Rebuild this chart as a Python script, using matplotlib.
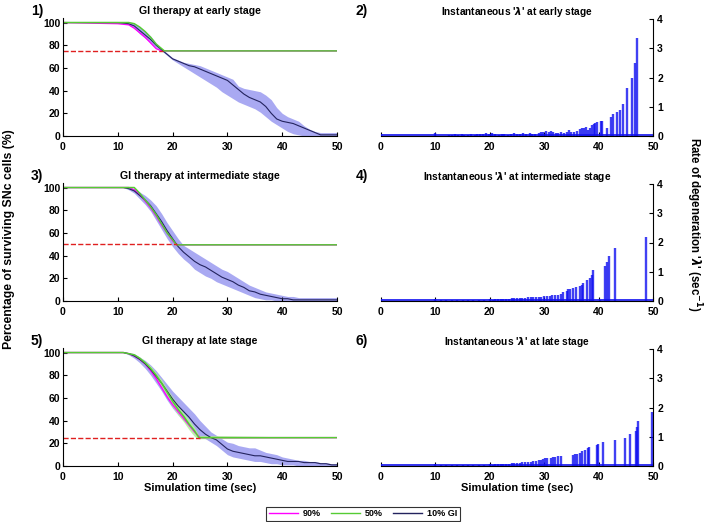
import matplotlib
matplotlib.use("Agg")
import matplotlib.pyplot as plt
from matplotlib.lines import Line2D

plt.rcParams['font.family'] = ['Liberation Sans', 'DejaVu Sans']
plt.rcParams['font.weight'] = 'bold'

# shared time grid for the survival curves (sec)
time = [0, 10, 11, 12, 13, 14, 15, 16, 17, 18, 19, 20, 21, 22, 23, 24, 25, 26, 27, 28, 29,
        30, 31, 32, 33, 34, 35, 36, 37, 38, 39, 40, 41, 42, 43, 44, 45, 46, 47, 48, 49, 50]

# --- early stage (threshold 75 %)
mean_early = [100, 100, 99.5, 99, 97, 93, 89, 85, 80, 76, 72, 68, 66, 64, 62, 61, 59, 57, 55, 53, 51,
              49, 45, 41, 37, 34, 32, 30, 26, 20, 15, 13, 12, 11, 9, 7, 5, 3, 1, 1, 1, 1]
up_early = [100, 100, 100, 100, 99, 96, 92, 88, 82, 77, 73, 69, 67, 65, 64, 63, 62, 60, 58, 56, 54,
            52, 50, 44, 42, 41, 40, 39, 36, 32, 25, 20, 17, 15, 13, 9, 6, 4, 3, 3, 3, 3]
lo_early = [100, 100, 100, 98, 95, 90, 86, 82, 78, 75, 71, 67, 64, 61, 58, 55, 52, 49, 46, 43, 39,
            36, 33, 30, 28, 26, 24, 21, 17, 13, 10, 7, 4, 2, 1, 0, 0, 0, 0, 0, 0, 0]
t_green_early = [0, 12, 13, 14, 15, 16, 17, 18, 18.5, 50]
green_early = [100, 100, 99, 96, 92, 87, 81, 77, 75, 75]
t_mag_early = [0, 10, 11, 12, 13, 14, 15, 16, 17, 18, 50]
mag_early = [100, 99, 98.5, 98, 95, 91, 87, 82, 77, 75, 75]

# --- intermediate stage (threshold 50 %)
mean_mid = [100, 100, 100, 99, 97, 93, 89, 84, 77, 70, 62, 55, 48, 43, 39, 35, 32, 30, 27, 24, 21,
            19, 17, 14, 12, 9, 8, 6, 5, 4, 3, 2, 2, 1, 1, 1, 1, 1, 1, 1, 1, 1]
up_mid = [100, 100, 100, 100, 99, 96, 93, 89, 84, 77, 69, 62, 55, 49, 46, 43, 40, 37, 34, 31, 28,
          26, 23, 20, 17, 14, 12, 10, 8, 7, 6, 5, 4, 4, 3, 3, 3, 3, 3, 3, 3, 3]
lo_mid = [100, 100, 100, 98, 95, 90, 85, 79, 71, 63, 55, 48, 42, 37, 33, 28, 25, 22, 20, 17, 15,
          13, 11, 9, 7, 5, 3, 2, 1, 1, 0, 0, 0, 0, 0, 0, 0, 0, 0, 0, 0, 0]
t_green_mid = [0, 13, 14, 15, 16, 17, 18, 19, 20, 20.7, 50]
green_mid = [100, 100, 95, 89, 83, 76, 68, 60, 54, 49.5, 49.5]
t_mag_mid = [0, 12, 13, 14, 15, 16, 17, 18, 19, 20, 20.8, 50]
mag_mid = [100, 100, 98, 94, 88, 82, 75, 67, 60, 53, 49.5, 49.5]

# --- late stage (threshold 25 %)
mean_late = [100, 100, 100, 99, 97, 94, 90, 85, 79, 73, 66, 59, 53, 48, 43, 37, 32, 28, 25, 23, 19,
             15, 13, 12, 11, 10, 9, 9, 8, 7, 6, 5, 4, 4, 4, 3, 3, 3, 2, 2, 1, 1]
up_late = [100, 100, 100, 100, 99, 96, 93, 89, 84, 78, 72, 66, 61, 56, 51, 46, 40, 35, 30, 27, 24,
           21, 20, 18, 17, 16, 16, 14, 12, 11, 10, 8, 7, 6, 5, 5, 4, 4, 3, 3, 2, 2]
lo_late = [100, 100, 100, 98, 95, 91, 86, 80, 73, 66, 58, 51, 45, 40, 35, 30, 26, 24, 21, 18, 14,
           10, 8, 7, 6, 5, 4, 4, 3, 2, 2, 1, 1, 1, 0, 0, 0, 0, 0, 0, 0, 0]
t_green_late = [0, 11, 12, 13, 14, 15, 16, 17, 18, 19, 20, 21, 22, 23, 24, 24.8, 50]
green_late = [100, 100, 99, 98, 95, 91, 86, 80, 73, 65, 57, 50, 44, 37, 31, 25, 25]
green_up_late = [100, 100, 99.5, 98.5, 96, 92, 88, 82, 76, 68, 61, 54, 47, 41, 34, 27, 25]
green_lo_late = [100, 100, 98.5, 97, 93, 89, 84, 78, 70, 61, 52, 45, 39, 32, 26, 24, 25]
t_mag_late = [0, 11, 12, 13, 14, 15, 16, 17, 18, 19, 20, 21, 22, 23, 24, 25, 50]
mag_late = [100, 100, 99, 97, 94, 90, 84, 77, 69, 61, 54, 48, 42, 36, 30, 25, 25]

thresholds = [75, 50, 25]
threshold_end = [18.3, 20.8, 25]

# --- instantaneous lambda (sec^-1)
lam_x_early = [0, 10, 12.5, 13, 13.6, 14.2, 14.8, 15.3, 16, 16.6, 17.2, 17.7,
               18.2, 18.8, 19.3, 19.9, 20.4, 21, 21.6, 22.2, 22.7, 23.3,
               23.9, 24.5, 25, 25.6, 26.1, 26.7, 27.3, 27.8, 28.4, 29,
               29.4, 29.8, 30.3, 30.8, 31.2, 31.6, 32.1, 32.6, 33.1, 33.6,
               34.1, 34.6, 35, 35.5, 36, 36.5, 36.9, 37.3, 37.7, 38.1,
               38.5, 38.8, 39.1, 39.4, 39.7, 40.4, 40.7, 41.5, 42.2, 42.6,
               43.3, 44.0, 44.4, 45.2, 46.1, 46.6, 47.0]
lam_early = [0.08, 0.1, 0.03, 0.05, 0.06, 0.04, 0.07, 0.05, 0.04, 0.06, 0.05, 0.08,
             0.07, 0.06, 0.09, 0.07, 0.1, 0.06, 0.05, 0.08, 0.06, 0.05,
             0.07, 0.09, 0.06, 0.08, 0.1, 0.07, 0.09, 0.06, 0.08, 0.1,
             0.15, 0.14, 0.16, 0.12, 0.18, 0.12, 0.1, 0.11, 0.13, 0.1,
             0.12, 0.2, 0.13, 0.14, 0.16, 0.25, 0.27, 0.28, 0.3, 0.22,
             0.28, 0.38, 0.42, 0.45, 0.47, 0.5, 0.52, 0.28, 0.64, 0.75,
             0.82, 0.9, 1.1, 1.65, 2.0, 2.5, 3.35]

lam_x_mid = [0, 10, 11, 12, 13, 14, 15, 16, 17, 18, 19, 20, 20.5, 21, 21.5, 22, 22.5, 23, 23.5, 24,
             24.5, 25, 25.5, 26, 26.5, 27, 27.5, 28, 28.5, 29, 29.5, 30, 30.5, 31, 31.5, 32, 32.5, 33,
             33.5, 34.1, 34.4, 34.8, 35.3, 35.9, 36.6, 36.9, 37.2, 37.8, 38.4, 38.8, 39.0, 40.2,
             41.1, 41.6, 42.0, 43.1, 48.8]
lam_mid = [0.08, 0.08, 0.02, 0.03, 0.03, 0.03, 0.04, 0.04, 0.04, 0.05, 0.05, 0.08, 0.05, 0.06, 0.06,
           0.07, 0.07, 0.08, 0.08, 0.09, 0.09, 0.1, 0.1, 0.11, 0.11, 0.12, 0.13, 0.13, 0.14, 0.15,
           0.15, 0.16, 0.17, 0.18, 0.19, 0.2, 0.22, 0.25, 0.3, 0.35, 0.4, 0.42, 0.45, 0.47, 0.5,
           0.55, 0.6, 0.73, 0.8, 0.9, 1.05, 0.05, 1.18, 1.32, 1.55, 1.82, 2.2]

lam_x_late = [0, 10, 11, 12, 13, 14, 15, 16, 17, 18, 19, 20, 20.5, 21, 21.5, 22, 22.5, 23, 23.5, 24,
              24.5, 25, 25.5, 26, 26.5, 27, 27.5, 28, 28.5, 29, 29.4, 29.8, 30.2, 30.6, 31.3, 31.6,
              32.0, 32.5, 33.0, 35.3, 35.7, 36.0, 36.5, 37.0, 37.5, 38.0, 38.3, 39.7, 39.9, 40.9,
              43.1, 44.9, 45.8, 46.8, 47.1, 47.3, 49.8]
lam_late = [0.08, 0.08, 0.02, 0.02, 0.03, 0.03, 0.03, 0.04, 0.04, 0.04, 0.05, 0.08, 0.05, 0.06, 0.06,
            0.07, 0.07, 0.08, 0.08, 0.09, 0.1, 0.1, 0.11, 0.12, 0.13, 0.14, 0.15, 0.16, 0.18, 0.2,
            0.22, 0.24, 0.26, 0.27, 0.28, 0.3, 0.3, 0.33, 0.35, 0.37, 0.4, 0.42, 0.45, 0.5, 0.55,
            0.6, 0.65, 0.72, 0.75, 0.82, 0.9, 0.97, 1.08, 1.2, 1.35, 1.55, 1.85]

surv_titles = ["GI therapy at early stage", "GI therapy at intermediate stage", "GI therapy at late stage"]
lam_titles = ["Instantaneous '$\\lambda$' at early stage", "Instantaneous '$\\lambda$' at intermediate stage",
              "Instantaneous '$\\lambda$' at late stage"]

MAG = '#ff00ff'
GRN = '#55cc33'
NAVY = '#23235e'
BAND = '#a9a9f2'
STEM = '#1010f0'

surv = [(mean_early, up_early, lo_early, t_green_early, green_early, t_mag_early, mag_early),
        (mean_mid, up_mid, lo_mid, t_green_mid, green_mid, t_mag_mid, mag_mid),
        (mean_late, up_late, lo_late, t_green_late, green_late, t_mag_late, mag_late)]
lams = [(lam_x_early, lam_early), (lam_x_mid, lam_mid), (lam_x_late, lam_late)]

fig = plt.figure(figsize=(7.08, 5.22), dpi=100)
W, H = 708.0, 522.0
bottoms = [136, 301, 466]
tick_fs = 7.5


def style(ax):
    ax.tick_params(direction='in', length=3, width=0.8, labelsize=tick_fs)
    ax.tick_params(axis='x', pad=4)
    ax.tick_params(axis='y', pad=2)
    for lab in ax.get_xticklabels() + ax.get_yticklabels():
        lab.set_fontweight('bold')


for i in range(3):
    b = bottoms[i]
    # left: survival
    ax = fig.add_axes([63 / W, 1 - b / H, 274 / W, 118 / H])
    m, u, l, tg, g, tp, p = surv[i]
    ax.fill_between(time, l, u, color=BAND, lw=0)
    if i == 2:
        ax.fill_between(t_green_late, green_lo_late, green_up_late, color='#b5f0a0', lw=0, alpha=0.9)
    ax.plot(tp, p, color=MAG, lw=1)
    ax.plot(time, m, color=NAVY, lw=0.8)
    ax.plot(tg, g, color=GRN, lw=1.1)
    ax.plot([0, threshold_end[i]], [thresholds[i], thresholds[i]], '--', color='#e02020', lw=1)
    ax.set_xlim(0, 50)
    ax.set_ylim(0, 104)
    ax.set_xticks([0, 10, 20, 30, 40, 50])
    ax.set_yticks([0, 20, 40, 60, 80, 100])
    ax.spines['top'].set_visible(False)
    ax.spines['right'].set_visible(False)
    style(ax)
    ax.set_title(surv_titles[i], fontsize=7.6, fontweight='bold', pad=3)
    fig.text(37 / W, 1 - (b - 125) / H, "%d)" % (2 * i + 1), fontsize=10, fontweight='bold',
             ha='center', va='center')
    if i == 2:
        ax.set_xlabel("Simulation time (sec)", fontsize=8, fontweight='bold', labelpad=1)

    # right: instantaneous lambda
    ax2 = fig.add_axes([381 / W, 1 - b / H, 272 / W, 117 / H])
    lx, lv = lams[i]
    ax2.vlines(lx, 0, lv, color=STEM, lw=1.7, alpha=0.8)
    ax2.plot([0, 50], [0.02, 0.02], color=STEM, lw=1.2)
    ax2.set_xlim(0, 50)
    ax2.set_ylim(0, 4)
    ax2.set_xticks([0, 10, 20, 30, 40, 50])
    ax2.set_yticks([0, 1, 2, 3, 4])
    ax2.yaxis.tick_right()
    ax2.spines['top'].set_visible(False)
    ax2.spines['left'].set_visible(False)
    style(ax2)
    ax2.tick_params(axis='y', pad=3)
    ax2.set_title(lam_titles[i], fontsize=7.3, fontweight='bold', pad=3)
    fig.text(362 / W, 1 - (b - 125) / H, "%d)" % (2 * i + 2), fontsize=10, fontweight='bold',
             ha='center', va='center')
    if i == 2:
        ax2.set_xlabel("Simulation time (sec)", fontsize=8, fontweight='bold', labelpad=1)

fig.text(9 / W, 1 - 239 / H, "Percentage of surviving SNc cells (%)", rotation=90,
         fontsize=8.8, fontweight='bold', ha='center', va='center')
fig.text(694 / W, 1 - 224 / H, "Rate of degeneration '$\\lambda$' (sec$^{-1}$)", rotation=-90,
         fontsize=8.3, fontweight='bold', ha='center', va='center')

handles = [Line2D([], [], color=MAG, lw=1), Line2D([], [], color=GRN, lw=1),
           Line2D([], [], color=NAVY, lw=1)]
leg = fig.legend(handles, ["90%", "50%", "10% GI"], loc='center', ncol=3,
                 bbox_to_anchor=(363 / W, 1 - 514 / H), fontsize=6.5, frameon=True,
                 fancybox=False, edgecolor='black', handlelength=3.2, handletextpad=0.5,
                 columnspacing=1.2, borderpad=0.3)
leg.get_frame().set_linewidth(0.8)
for t in leg.get_texts():
    t.set_fontweight('bold')

fig.savefig("out.png", dpi=100)
